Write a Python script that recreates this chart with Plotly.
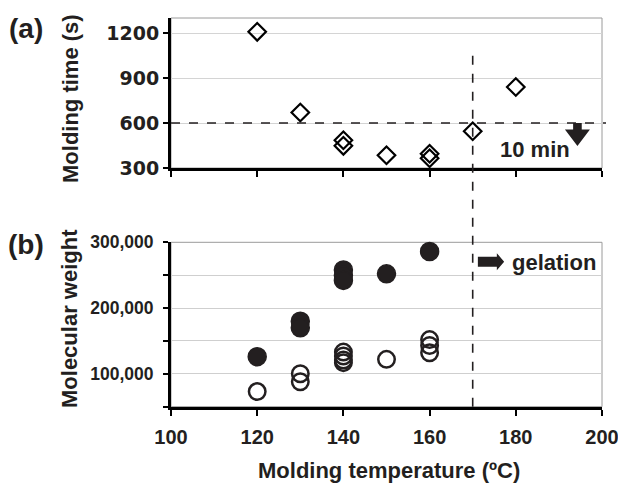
import plotly.graph_objects as go

# ---- data ----
time_temp = [120, 130, 140, 140, 150, 160, 160, 170, 180]
time_s = [1208, 670, 485, 448, 385, 395, 365, 545, 840]

mw_filled_temp = [120, 130, 130, 140, 140, 140, 150, 160]
mw_filled = [126000, 180000, 170000, 258000, 250000, 242000, 252000, 286000]

mw_open_temp = [120, 130, 130, 140, 140, 140, 140, 150, 160, 160, 160]
mw_open = [73000, 100000, 88000, 133000, 127000, 121000, 117000, 122000, 152000, 143000, 132000]

x_ticks = [100, 120, 140, 160, 180, 200]
time_ticks = [300, 600, 900, 1200]
mw_tickvals = [50000, 100000, 150000, 200000, 250000, 300000]
mw_ticktext = ["", "100,000", "", "200,000", "", "300,000"]

FONT = "Liberation Sans"
TXT = "#231f20"
W, H = 618, 484

def px_to_paper_x(px):
    return px / W

def px_to_paper_y(py):
    return 1 - py / H

def bold(labels):
    return [f"<b>{t}</b>" if t != "" else "" for t in labels]

xdom = [px_to_paper_x(171), px_to_paper_x(602)]
ydom_a = [px_to_paper_y(168), px_to_paper_y(18)]
ydom_b = [px_to_paper_y(406.7), px_to_paper_y(242.3)]

fig = go.Figure()

fig.add_trace(go.Scatter(
    x=time_temp, y=time_s, mode="markers", xaxis="x", yaxis="y",
    marker=dict(symbol="diamond-open", size=13.5, color="black", line=dict(width=2.2, color="black")),
    showlegend=False, cliponaxis=False))

fig.add_trace(go.Scatter(
    x=mw_filled_temp, y=mw_filled, mode="markers", xaxis="x2", yaxis="y2",
    marker=dict(symbol="circle", size=18, color="#231f20", line=dict(width=1.5, color="#231f20")),
    showlegend=False, cliponaxis=False))

fig.add_trace(go.Scatter(
    x=mw_open_temp, y=mw_open, mode="markers", xaxis="x2", yaxis="y2",
    marker=dict(symbol="circle-open", size=16.5, color="#231f20", line=dict(width=2.5, color="#231f20")),
    showlegend=False, cliponaxis=False))

def tf(size, family=FONT):
    return dict(family=family, size=size, color=TXT, weight=700)

common_x = dict(range=[100, 200], tickvals=x_ticks, ticktext=bold([str(v) for v in x_ticks]),
                ticks="outside", ticklen=6, tickwidth=1.5,
                tickcolor="black", showline=True, linewidth=3, linecolor="black",
                showgrid=False, zeroline=False, domain=xdom, automargin=False,
                ticklabeloverflow="allow")

fig.update_layout(
    width=W, height=H,
    margin=dict(l=0, r=0, t=0, b=0),
    plot_bgcolor="white", paper_bgcolor="white",
    font=dict(family=FONT, color=TXT),
    xaxis=dict(**common_x, anchor="y", showticklabels=False),
    yaxis=dict(range=[300, 1300], tickvals=time_ticks, ticktext=bold([str(v) for v in time_ticks]),
               ticks="outside", ticklen=5, tickwidth=1.5,
               tickcolor="black", showline=True, linewidth=3, linecolor="black",
               showgrid=True, gridcolor="#d4d4d4", gridwidth=1, zeroline=False,
               domain=ydom_a, anchor="x", tickfont=tf(19, "DejaVu Sans"), automargin=False,
               ticklabeloverflow="allow"),
    xaxis2=dict(**common_x, anchor="y2", tickfont=tf(20), ticklabelstandoff=4),
    yaxis2=dict(range=[50000, 300000], tickvals=mw_tickvals, ticktext=bold(mw_ticktext), ticks="outside",
                ticklen=5, tickwidth=1.5, tickcolor="black", showline=True, linewidth=3,
                linecolor="black", showgrid=True, gridcolor="#cfcfcf", gridwidth=1,
                zeroline=False, domain=ydom_b, anchor="x2", tickfont=tf(17.5),
                automargin=False, ticklabelstandoff=6, ticklabeloverflow="allow"),
)

shapes = []
# gray plot borders
for xr, yr in [("x", "y"), ("x2", "y2")]:
    shapes.append(dict(type="rect", xref=f"{xr} domain", yref=f"{yr} domain", x0=0, x1=1, y0=0, y1=1,
                       line=dict(color="#9a9a9a", width=1), layer="below"))
# horizontal 10 min line
shapes.append(dict(type="line", xref="paper", yref="y", x0=xdom[0], x1=px_to_paper_x(606), y0=600, y1=600,
                   line=dict(color="#231f20", width=1.6, dash="dash")))
# vertical gelation line
shapes.append(dict(type="line", xref="x", yref="paper", x0=170, x1=170,
                   y0=ydom_b[0], y1=px_to_paper_y(55),
                   line=dict(color="#231f20", width=1.6, dash="dash")))
# down arrow (a)
shapes.append(dict(type="path", xref="x", yref="y",
                   path="M 193.3 600 L 195.3 600 L 195.3 556 L 197.2 556 L 194.3 447 L 191.4 556 L 193.3 556 Z",
                   fillcolor="#231f20", line=dict(color="#231f20", width=0)))
# right arrow (b)
shapes.append(dict(type="path", xref="x2", yref="y2",
                   path="M 171.2 278000 L 175.6 278000 L 175.6 283500 L 177.3 270500 L 175.6 257500 L 175.6 263000 L 171.2 263000 Z",
                   fillcolor="#231f20", line=dict(color="#231f20", width=0)))
fig.update_layout(shapes=shapes)

big = tf(28)
lab = tf(22)
annotations = [
    dict(text="<b>(a)</b>", xref="paper", yref="paper", x=px_to_paper_x(26), y=px_to_paper_y(28),
         showarrow=False, font=big, xanchor="center", yanchor="middle"),
    dict(text="<b>(b)</b>", xref="paper", yref="paper", x=px_to_paper_x(26), y=px_to_paper_y(244),
         showarrow=False, font=big, xanchor="center", yanchor="middle"),
    dict(text="<b>Molding time (s)</b>", xref="paper", yref="paper", x=px_to_paper_x(70), y=px_to_paper_y(99),
         showarrow=False, font=lab, textangle=-90, xanchor="center", yanchor="middle"),
    dict(text="<b>Molecular weight</b>", xref="paper", yref="paper", x=px_to_paper_x(69), y=px_to_paper_y(319),
         showarrow=False, font=lab, textangle=-90, xanchor="center", yanchor="middle"),
    dict(text="<b>Molding temperature (ºC)</b>", xref="paper", yref="paper", x=px_to_paper_x(389),
         y=px_to_paper_y(470), showarrow=False, font=lab, xanchor="center", yanchor="middle"),
    dict(text="<b>10 min</b>", xref="x", yref="y", x=175.9, y=425, showarrow=False, font=lab,
         xanchor="left", yanchor="middle"),
    dict(text="<b>gelation</b>", xref="x2", yref="y2", x=178.6, y=270000, showarrow=False, font=lab,
         xanchor="left", yanchor="middle"),
]
fig.update_layout(annotations=annotations)

fig.write_html("out.html")
